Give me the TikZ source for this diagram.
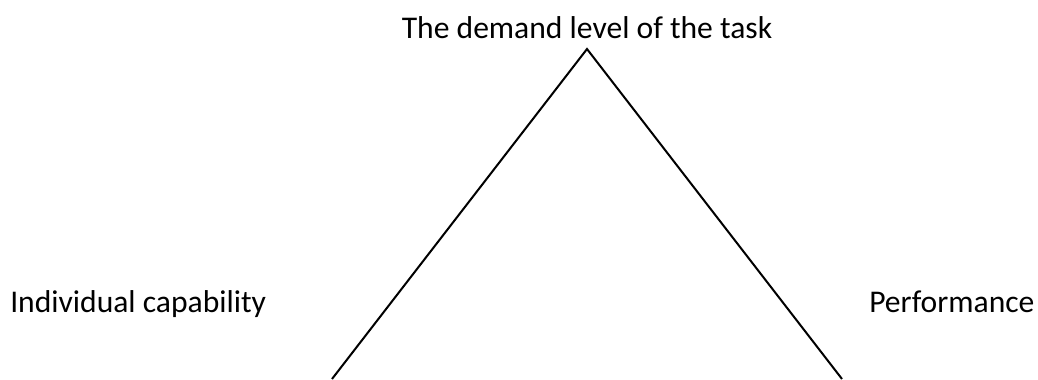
\documentclass[tikz,border=0pt]{standalone}
\usepackage{fontspec}
\setmainfont{Carlito}
\usetikzlibrary{positioning}

\begin{document}
\begin{tikzpicture}[x=0.75pt,y=-0.75pt,lbl/.style={inner sep=0pt,font=\fontsize{23.7}{28}\selectfont},side/.style={black,line width=1.5pt}]
  \useasboundingbox (0,0) rectangle (1038,379);
  % vrchol a konce ramen
  \coordinate (top) at (587,49);
  \coordinate (bl) at (332,379);
  \coordinate (br) at (842,379);
  \node[lbl,anchor=base] (task) at (587,38) {The demand level of the task};
  \node[lbl,anchor=base west] (cap) at (10,312) {Individual capability};
  \node[lbl,anchor=base west] (perf) at (869,312) {Performance};
  \draw[side] (bl) -- (top) -- (br);
\end{tikzpicture}
\end{document}
